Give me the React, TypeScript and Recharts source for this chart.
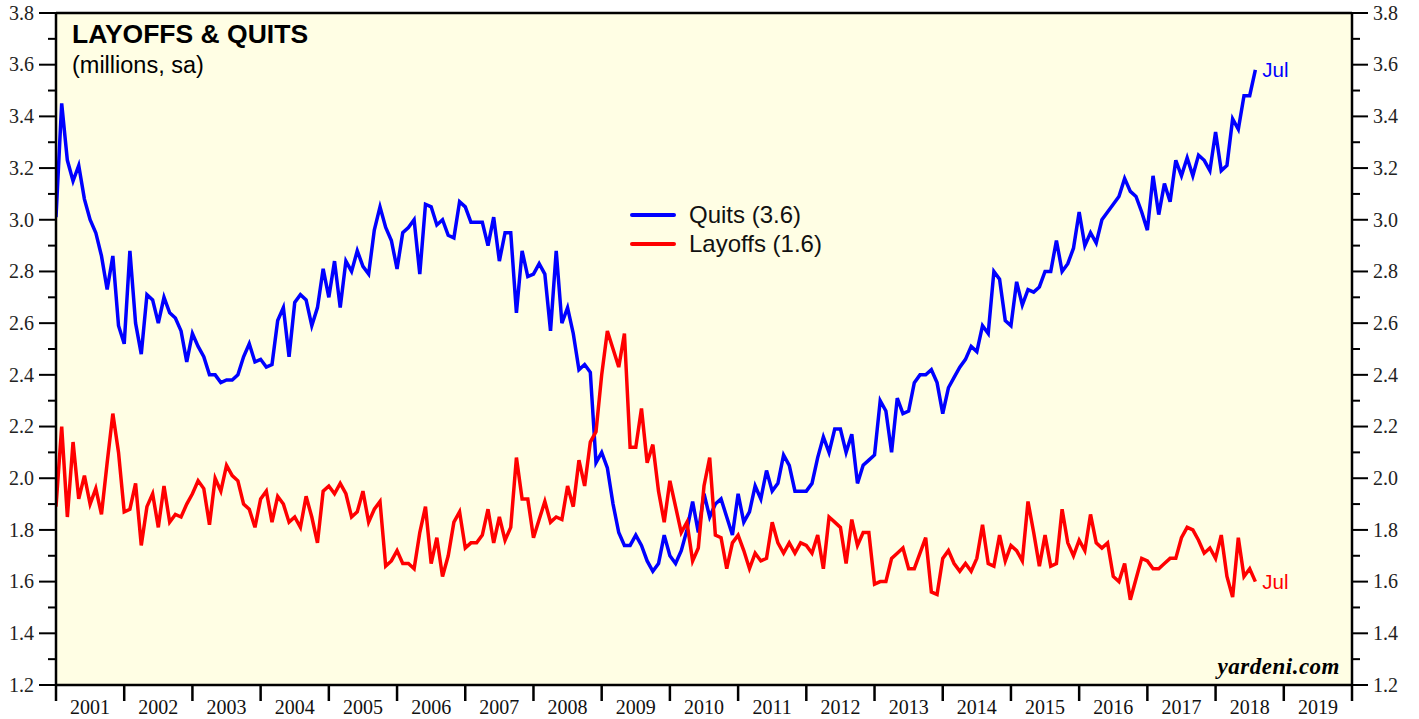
import { LineChart, Line, XAxis, YAxis, CartesianGrid, ReferenceLine, Legend, LabelList } from "recharts"

// monthly JOLTS readings, Dec 2000 .. Jul 2018 (millions, sa)
const quits = [
  3.01,
  3.45, 3.23, 3.15, 3.21, 3.08, 3.00, 2.95, 2.86, 2.73, 2.86, 2.59, 2.52,
  2.88, 2.60, 2.48, 2.71, 2.69, 2.60, 2.70, 2.64, 2.62, 2.57, 2.45, 2.56,
  2.51, 2.47, 2.40, 2.40, 2.37, 2.38, 2.38, 2.40, 2.47, 2.52, 2.45, 2.46,
  2.43, 2.44, 2.61, 2.66, 2.47, 2.68, 2.71, 2.69, 2.59, 2.66, 2.81, 2.70,
  2.84, 2.66, 2.84, 2.80, 2.88, 2.82, 2.79, 2.96, 3.05, 2.97, 2.92, 2.81,
  2.95, 2.97, 3.00, 2.79, 3.06, 3.05, 2.98, 3.00, 2.94, 2.93, 3.07, 3.05,
  2.99, 2.99, 2.99, 2.90, 3.01, 2.84, 2.95, 2.95, 2.64, 2.88, 2.78, 2.79,
  2.83, 2.79, 2.57, 2.88, 2.60, 2.66, 2.56, 2.42, 2.44, 2.41, 2.06, 2.10,
  2.04, 1.90, 1.79, 1.74, 1.74, 1.78, 1.74, 1.68, 1.64, 1.67, 1.78, 1.70,
  1.67, 1.72, 1.80, 1.91, 1.79, 1.94, 1.85, 1.90, 1.92, 1.85, 1.78, 1.94,
  1.83, 1.87, 1.97, 1.92, 2.03, 1.95, 1.98, 2.09, 2.05, 1.95, 1.95, 1.95,
  1.98, 2.08, 2.16, 2.10, 2.19, 2.19, 2.10, 2.17, 1.98, 2.05, 2.07, 2.09,
  2.30, 2.26, 2.10, 2.31, 2.25, 2.26, 2.37, 2.40, 2.40, 2.42, 2.37, 2.25,
  2.35, 2.39, 2.43, 2.46, 2.51, 2.49, 2.59, 2.56, 2.80, 2.77, 2.61, 2.59,
  2.76, 2.67, 2.73, 2.72, 2.74, 2.80, 2.80, 2.92, 2.80, 2.83, 2.89, 3.03,
  2.90, 2.95, 2.91, 3.00, 3.03, 3.06, 3.09, 3.16, 3.11, 3.09, 3.03, 2.96,
  3.17, 3.02, 3.14, 3.07, 3.23, 3.17, 3.24, 3.17, 3.25, 3.23, 3.19, 3.34,
  3.19, 3.21, 3.39, 3.35, 3.48, 3.48, 3.58,
]

const layoffs = [
  1.89,
  2.20, 1.85, 2.14, 1.92, 2.01, 1.90, 1.96, 1.86, 2.06, 2.25, 2.10, 1.87,
  1.88, 1.98, 1.74, 1.89, 1.94, 1.81, 1.97, 1.83, 1.86, 1.85, 1.90, 1.94,
  1.99, 1.96, 1.82, 2.00, 1.95, 2.05, 2.01, 1.99, 1.90, 1.88, 1.81, 1.92,
  1.95, 1.83, 1.93, 1.90, 1.83, 1.85, 1.81, 1.93, 1.85, 1.75, 1.95, 1.97,
  1.94, 1.98, 1.94, 1.85, 1.87, 1.95, 1.83, 1.88, 1.91, 1.66, 1.68, 1.72,
  1.67, 1.67, 1.65, 1.79, 1.89, 1.67, 1.77, 1.62, 1.70, 1.83, 1.87, 1.73,
  1.75, 1.75, 1.78, 1.88, 1.75, 1.85, 1.76, 1.81, 2.08, 1.92, 1.92, 1.77,
  1.84, 1.91, 1.83, 1.85, 1.84, 1.97, 1.89, 2.07, 1.97, 2.14, 2.18, 2.40,
  2.57, 2.50, 2.43, 2.56, 2.12, 2.12, 2.27, 2.06, 2.13, 1.95, 1.83, 1.99,
  1.89, 1.79, 1.83, 1.68, 1.73, 1.97, 2.08, 1.78, 1.77, 1.65, 1.75, 1.78,
  1.72, 1.65, 1.71, 1.68, 1.69, 1.83, 1.75, 1.71, 1.75, 1.71, 1.75, 1.74,
  1.71, 1.78, 1.65, 1.85, 1.83, 1.81, 1.67, 1.84, 1.74, 1.79, 1.79, 1.59,
  1.60, 1.60, 1.69, 1.71, 1.73, 1.65, 1.65, 1.71, 1.77, 1.56, 1.55, 1.69,
  1.72, 1.67, 1.64, 1.67, 1.64, 1.69, 1.82, 1.67, 1.66, 1.78, 1.68, 1.74,
  1.72, 1.68, 1.91, 1.79, 1.66, 1.78, 1.66, 1.67, 1.88, 1.75, 1.70, 1.76,
  1.72, 1.86, 1.75, 1.73, 1.75, 1.62, 1.60, 1.67, 1.53, 1.61, 1.69, 1.68,
  1.65, 1.65, 1.67, 1.69, 1.69, 1.77, 1.81, 1.80, 1.76, 1.71, 1.73, 1.69,
  1.78, 1.62, 1.54, 1.77, 1.62, 1.65, 1.60,
]

// Dec 2000 sits on the 2001 boundary, one step per month after that
const firstPoint = 2001
const yearTicks = [2001, 2002, 2003, 2004, 2005, 2006, 2007, 2008, 2009, 2010,
  2011, 2012, 2013, 2014, 2015, 2016, 2017, 2018, 2019, 2020]
const yearLabels = ["2001", "2002", "2003", "2004", "2005", "2006", "2007", "2008", "2009", "2010",
  "2011", "2012", "2013", "2014", "2015", "2016", "2017", "2018", "2019"]
const valueTicks = [1.2, 1.3, 1.4, 1.5, 1.6, 1.7, 1.8, 1.9, 2.0, 2.1, 2.2, 2.3, 2.4, 2.5,
  2.6, 2.7, 2.8, 2.9, 3.0, 3.1, 3.2, 3.3, 3.4, 3.5, 3.6, 3.7, 3.8]
const seriesOrder = ["quits", "layoffs"]
const lastMonth = "Jul"

const W = 1419
const H = 719
const LEFT_W = 56
const RIGHT_W = 67
const BOTTOM_H = 34
const TOP = 13
const pxPerYear = (W - LEFT_W - RIGHT_W) / (yearTicks.length - 1)

const serif = "'Liberation Serif', 'Times New Roman', serif"
const sans = "'Liberation Sans', Arial, Helvetica, sans-serif"

const data = quits.map((q, i) => ({
  t: firstPoint + i / 12,
  quits: q,
  layoffs: layoffs[i],
}))

const isMajor = (v: number) => Math.round(v * 10) % 2 === 0

function LeftTick(props: any) {
  const { x, y, payload } = props
  const major = isMajor(payload.value)
  return (
    <g>
      <line x1={x - (major ? 17 : 8)} x2={x} y1={y} y2={y} stroke="#000" strokeWidth={2} />
      {major && (
        <text x={x - 22} y={y} dy="0.34em" textAnchor="end" fontSize={20} fontFamily={serif} fill="#222">
          {payload.value.toFixed(1)}
        </text>
      )}
    </g>
  )
}

function RightTick(props: any) {
  const { x, y, payload } = props
  const major = isMajor(payload.value)
  return (
    <g>
      <line x1={x} x2={x + (major ? 16 : 8)} y1={y} y2={y} stroke="#000" strokeWidth={2} />
      {major && (
        <text x={x + 21} y={y} dy="0.34em" textAnchor="start" fontSize={20} fontFamily={serif} fill="#222">
          {payload.value.toFixed(1)}
        </text>
      )}
    </g>
  )
}

function YearTick(props: any) {
  const { x, y, index } = props
  const label = yearLabels[index]
  return (
    <g>
      <line x1={x} x2={x} y1={y} y2={y + 16} stroke="#000" strokeWidth={2.5} />
      {label && (
        <text x={x + pxPerYear / 2} y={y + 29} textAnchor="middle" fontSize={20} fontFamily={serif} fill="#111">
          {label}
        </text>
      )}
    </g>
  )
}

const endLabel = (color: string) => (props: any) => {
  const { x, y, index } = props
  if (index !== data.length - 1) return <g key={`e${index}`} />
  return (
    <text key={`e${index}`} x={x + 7} y={y + 7} fontSize={20.5} fontFamily={sans} fill={color}>
      {lastMonth}
    </text>
  )
}

function LegendBox(props: any) {
  const items = [...(props.payload || [])].sort(
    (a: any, b: any) => seriesOrder.indexOf(a.dataKey) - seriesOrder.indexOf(b.dataKey)
  )
  return (
    <div style={{ fontFamily: sans, fontSize: 24, color: "#111" }}>
      {items.map((it: any) => (
        <div key={it.value} style={{ display: "flex", alignItems: "center", height: 29 }}>
          <svg width={46} height={6} style={{ marginRight: 13 }}>
            <line x1={2} x2={44} y1={3} y2={3} stroke={it.color} strokeWidth={4} strokeLinecap="round" />
          </svg>
          <span>{it.value}</span>
        </div>
      ))}
    </div>
  )
}

export default function App() {
  const lastQ = quits[quits.length - 1]
  const lastL = layoffs[layoffs.length - 1]
  return (
    <div style={{ position: "absolute", left: 0, top: 0, width: W, height: H, background: "#fff" }}>
      <LineChart width={W} height={H} data={data} margin={{ top: TOP, right: 0, bottom: 0, left: 0 }}>
        <CartesianGrid fill="#FFFEE4" horizontal={false} vertical={false} />
        <XAxis
          dataKey="t"
          type="number"
          domain={[2001, 2020]}
          ticks={yearTicks}
          interval={0}
          allowDataOverflow
          height={BOTTOM_H}
          tickSize={0}
          tickMargin={0}
          tickLine={false}
          axisLine={{ stroke: "#000", strokeWidth: 2.5 }}
          tick={YearTick}
        />
        <YAxis
          domain={[1.2, 3.8]}
          ticks={valueTicks}
          interval={0}
          allowDataOverflow
          width={LEFT_W}
          tickSize={0}
          tickMargin={0}
          tickLine={false}
          axisLine={{ stroke: "#000", strokeWidth: 2.5 }}
          tick={LeftTick}
        />
        <YAxis
          yAxisId="right"
          orientation="right"
          domain={[1.2, 3.8]}
          ticks={valueTicks}
          interval={0}
          allowDataOverflow
          width={RIGHT_W}
          tickSize={0}
          tickMargin={0}
          tickLine={false}
          axisLine={{ stroke: "#000", strokeWidth: 2.5 }}
          tick={RightTick}
        />
        <ReferenceLine y={3.8} stroke="#000" strokeWidth={2.5} />
        <Legend
          layout="vertical"
          align="center"
          verticalAlign="middle"
          content={LegendBox}
          wrapperStyle={{ left: 630, top: 200, width: 260, height: 60 }}
        />
        <Line
          type="linear"
          dataKey="quits"
          name={`Quits (${lastQ.toFixed(1)})`}
          stroke="#0000FF"
          strokeWidth={3.5}
          dot={false}
          isAnimationActive={false}
        >
          <LabelList dataKey="quits" content={endLabel("#0000FF")} />
        </Line>
        <Line
          type="linear"
          dataKey="layoffs"
          name={`Layoffs (${lastL.toFixed(1)})`}
          stroke="#FF0000"
          strokeWidth={3.5}
          dot={false}
          isAnimationActive={false}
        >
          <LabelList dataKey="layoffs" content={endLabel("#FF0000")} />
        </Line>
      </LineChart>

      <div style={{ position: "absolute", left: 72, top: 20.5, fontFamily: sans, fontWeight: 700, fontSize: 26.5, lineHeight: 1, color: "#000" }}>
        LAYOFFS &amp; QUITS
      </div>
      <div style={{ position: "absolute", left: 72, top: 54, fontFamily: sans, fontSize: 23.5, lineHeight: 1, color: "#000" }}>
        (millions, sa)
      </div>
      <div style={{ position: "absolute", right: W - 1340, top: 655, fontFamily: serif, fontWeight: 700, fontStyle: "italic", fontSize: 23, lineHeight: 1, color: "#000", letterSpacing: 0.5 }}>
        yardeni.com
      </div>
    </div>
  )
}
